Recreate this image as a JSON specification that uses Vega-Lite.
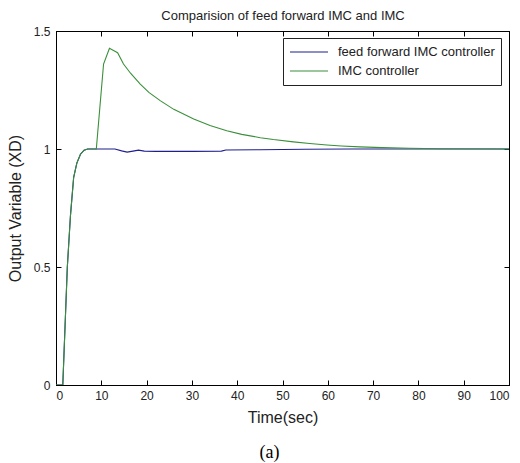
{
  "$schema": "https://vega.github.io/schema/vega-lite/v6.json",
  "width": 453,
  "height": 354,
  "autosize": {"type": "none"},
  "padding": {"left": 56, "top": 31, "right": 11, "bottom": 78},
  "background": "white",
  "title": {"text": "(a)", "orient": "bottom", "font": "Liberation Serif", "fontSize": 18, "fontWeight": "normal", "color": "black", "offset": 19, "dx": -13},
  "config": {
    "view": {"stroke": "black", "strokeWidth": 1},
    "axis": {"grid": false, "domainColor": "black", "tickColor": "black", "tickSize": -5, "labelFont": "Liberation Sans", "labelFontSize": 12, "labelColor": "#222", "titleFont": "Liberation Sans", "titleFontSize": 16, "titleFontWeight": "normal", "titleColor": "#222"}
  },
  "data": {"values": [
    {"series": "feed forward IMC controller", "t": 0, "v": 0},
    {"series": "feed forward IMC controller", "t": 1.5, "v": 0},
    {"series": "feed forward IMC controller", "t": 2.5, "v": 0.5},
    {"series": "feed forward IMC controller", "t": 3.2, "v": 0.72},
    {"series": "feed forward IMC controller", "t": 3.9, "v": 0.88},
    {"series": "feed forward IMC controller", "t": 4.6, "v": 0.94},
    {"series": "feed forward IMC controller", "t": 5.4, "v": 0.978},
    {"series": "feed forward IMC controller", "t": 6.2, "v": 0.995},
    {"series": "feed forward IMC controller", "t": 7, "v": 1.0},
    {"series": "feed forward IMC controller", "t": 8.9, "v": 1.0},
    {"series": "feed forward IMC controller", "t": 13, "v": 1.0},
    {"series": "feed forward IMC controller", "t": 14.5, "v": 0.992},
    {"series": "feed forward IMC controller", "t": 15.7, "v": 0.987},
    {"series": "feed forward IMC controller", "t": 17, "v": 0.991},
    {"series": "feed forward IMC controller", "t": 18.2, "v": 0.995},
    {"series": "feed forward IMC controller", "t": 19.5, "v": 0.991},
    {"series": "feed forward IMC controller", "t": 22, "v": 0.99},
    {"series": "feed forward IMC controller", "t": 30, "v": 0.99},
    {"series": "feed forward IMC controller", "t": 36.5, "v": 0.991},
    {"series": "feed forward IMC controller", "t": 37.5, "v": 0.996},
    {"series": "feed forward IMC controller", "t": 45, "v": 0.997},
    {"series": "feed forward IMC controller", "t": 55, "v": 0.999},
    {"series": "feed forward IMC controller", "t": 65, "v": 1.0},
    {"series": "feed forward IMC controller", "t": 100, "v": 1.0},
    {"series": "IMC controller", "t": 0, "v": 0},
    {"series": "IMC controller", "t": 1.5, "v": 0},
    {"series": "IMC controller", "t": 2.5, "v": 0.5},
    {"series": "IMC controller", "t": 3.2, "v": 0.72},
    {"series": "IMC controller", "t": 3.9, "v": 0.88},
    {"series": "IMC controller", "t": 4.6, "v": 0.94},
    {"series": "IMC controller", "t": 5.4, "v": 0.978},
    {"series": "IMC controller", "t": 6.2, "v": 0.995},
    {"series": "IMC controller", "t": 7, "v": 1.0},
    {"series": "IMC controller", "t": 8.9, "v": 1.0},
    {"series": "IMC controller", "t": 10.5, "v": 1.36},
    {"series": "IMC controller", "t": 11.8, "v": 1.427},
    {"series": "IMC controller", "t": 13.6, "v": 1.408},
    {"series": "IMC controller", "t": 14.9, "v": 1.36},
    {"series": "IMC controller", "t": 16.5, "v": 1.32},
    {"series": "IMC controller", "t": 18.6, "v": 1.275},
    {"series": "IMC controller", "t": 20.5, "v": 1.24},
    {"series": "IMC controller", "t": 23, "v": 1.205},
    {"series": "IMC controller", "t": 26, "v": 1.168},
    {"series": "IMC controller", "t": 30.4, "v": 1.127},
    {"series": "IMC controller", "t": 34, "v": 1.1},
    {"series": "IMC controller", "t": 37.7, "v": 1.077},
    {"series": "IMC controller", "t": 41, "v": 1.062},
    {"series": "IMC controller", "t": 45.1, "v": 1.048},
    {"series": "IMC controller", "t": 48, "v": 1.04},
    {"series": "IMC controller", "t": 52.4, "v": 1.03},
    {"series": "IMC controller", "t": 56, "v": 1.023},
    {"series": "IMC controller", "t": 59.8, "v": 1.017},
    {"series": "IMC controller", "t": 63, "v": 1.013},
    {"series": "IMC controller", "t": 67.1, "v": 1.009},
    {"series": "IMC controller", "t": 72, "v": 1.006},
    {"series": "IMC controller", "t": 78, "v": 1.003},
    {"series": "IMC controller", "t": 85, "v": 1.001},
    {"series": "IMC controller", "t": 100, "v": 1.0}
  ]},
  "layer": [
    {
      "mark": {"type": "line", "strokeWidth": 1.1, "clip": true},
      "encoding": {
        "x": {"field": "t", "type": "quantitative", "scale": {"domain": [0, 100], "nice": false},
              "axis": {"orient": "bottom", "values": [0,10,20,30,40,50,60,70,80,90,100], "format": "d", "labelPadding": 10, "title": "Time(sec)", "titlePadding": 8}},
        "y": {"field": "v", "type": "quantitative", "scale": {"domain": [0, 1.5], "nice": false},
              "axis": {"orient": "left", "values": [0, 0.5, 1, 1.5], "format": "~r", "labelPadding": 11, "title": "Output Variable (XD)", "titlePadding": 10}},
        "color": {"field": "series", "type": "nominal",
                  "scale": {"domain": ["feed forward IMC controller", "IMC controller"], "range": ["#1f1f8f", "#3a8f3a"]},
                  "legend": {"orient": "none", "legendX": 227, "legendY": 7, "title": null, "strokeColor": "#222", "fillColor": "white", "padding": 6, "symbolType": "stroke", "symbolSize": 1444, "clipHeight": 16, "symbolStrokeWidth": 1.2, "labelFont": "Liberation Sans", "labelFontSize": 13, "labelColor": "#222", "labelOffset": 9, "rowPadding": 3, "labelLimit": 300}}
      }
    },
    {
      "mark": {"type": "line", "opacity": 0},
      "encoding": {
        "x": {"field": "t", "type": "quantitative",
              "axis": {"orient": "top", "values": [0,10,20,30,40,50,60,70,80,90,100], "labels": false, "title": "Comparision of feed forward IMC and IMC", "titleFontSize": 13, "titlePadding": 8}},
        "y": {"field": "v", "type": "quantitative",
              "axis": {"orient": "right", "values": [0, 0.5, 1, 1.5], "labels": false, "title": null}},
        "detail": {"field": "series"}
      }
    }
  ],
  "resolve": {"axis": {"x": "independent", "y": "independent"}}
}
